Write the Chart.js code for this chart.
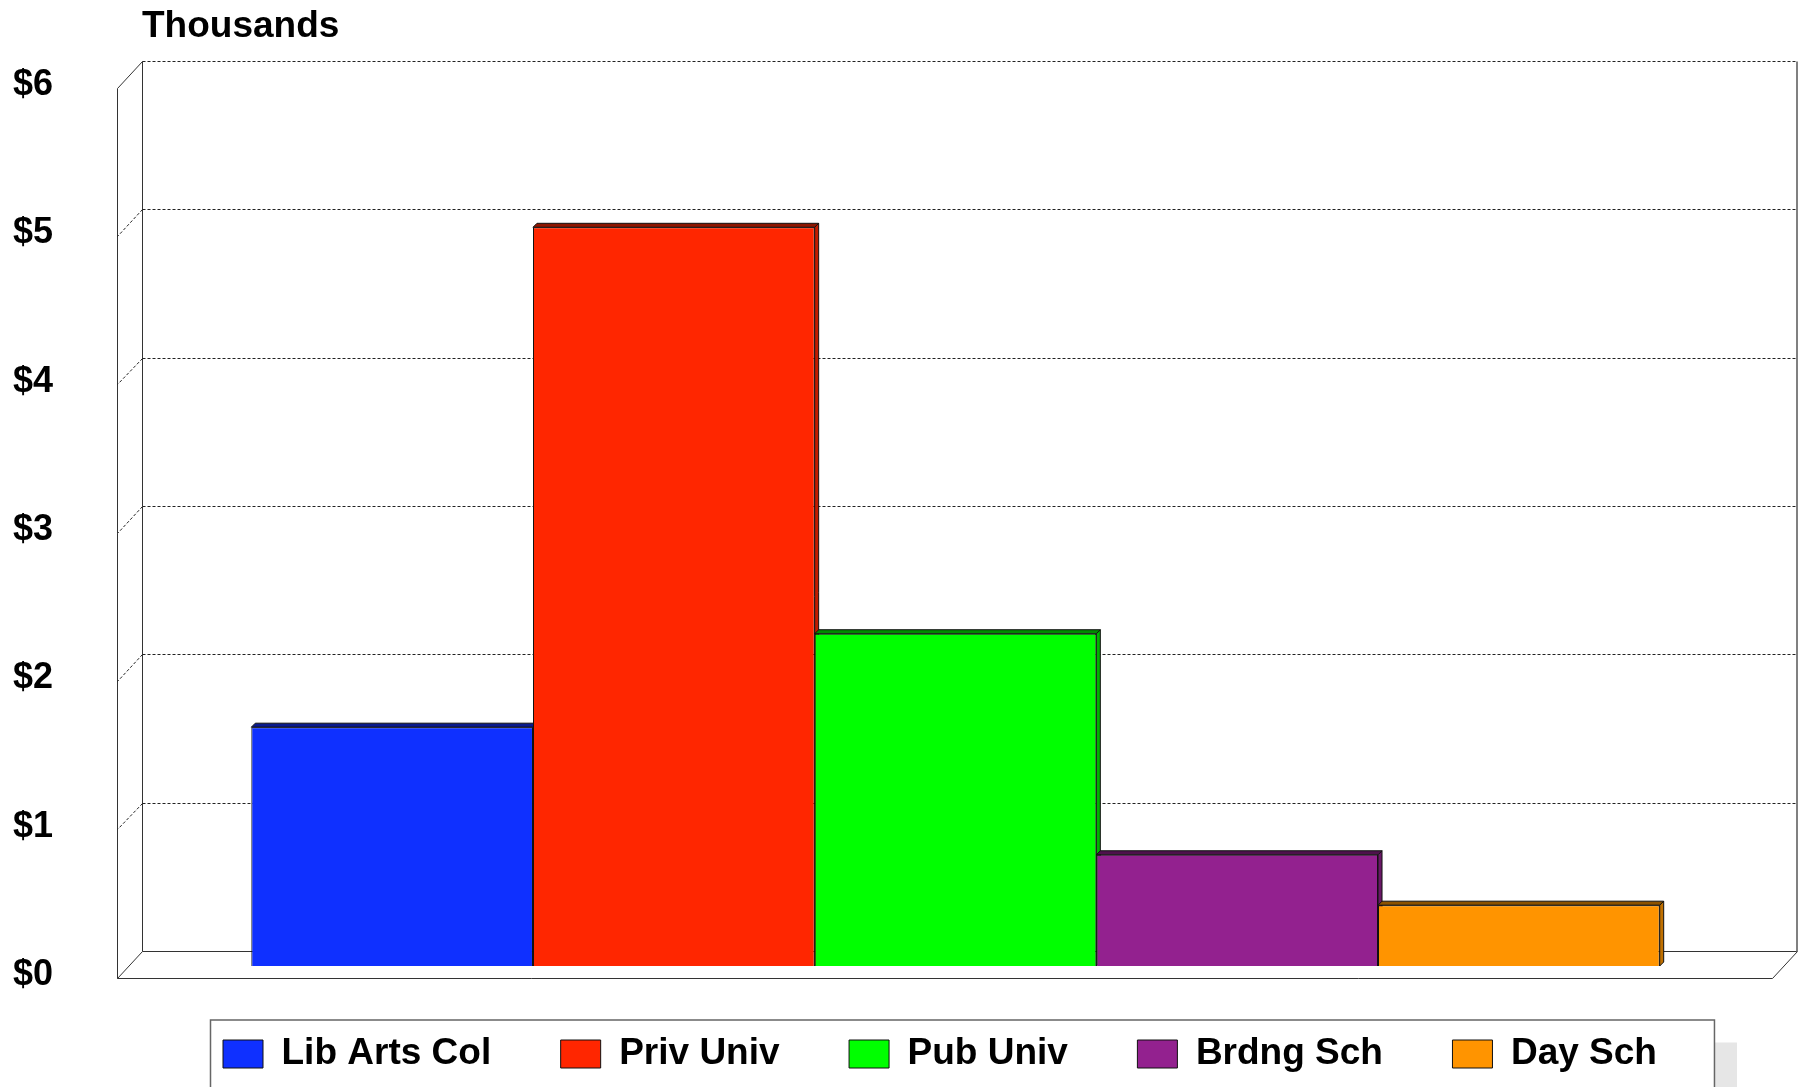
<!DOCTYPE html>
<html>
<head>
<meta charset="utf-8">
<script src="https://cdn.jsdelivr.net/npm/chart.js@4.4.1/dist/chart.umd.min.js"></script>
<style>html,body{margin:0;padding:0;background:#fff;overflow:hidden}</style>
</head>
<body>
<canvas id="c" width="1799" height="1087"></canvas>
<script>
// ---- data ----
const categories = [''];
const seriesNames = ['Lib Arts Col', 'Priv Univ', 'Pub Univ', 'Brdng Sch', 'Day Sch'];
const seriesValues = [1.61, 4.98, 2.24, 0.75, 0.41];
const tickValues = [0, 1, 2, 3, 4, 5, 6];
const titleText = 'Thousands';

// ---- styles ----
const frontColors = ['#0F30FF', '#FF2600', '#00FF00', '#93218F', '#FF9400'];
const topColors   = ['#0A1A8C', '#8C1500', '#008C00', '#4E114C', '#8C5200'];
const sideColors  = ['#0B24C0', '#C01C00', '#00B400', '#6A1867', '#C07000'];
const FONT = '"Liberation Sans", Arial, Helvetica, sans-serif';
const BACK = {dx: 14, dy: -15};
const FRONT = {dx: -11, dy: 11.5};
const DEPTH = 4;
const LEGEND_FIRST_X = 223;

const yMax = tickValues[tickValues.length - 1];

const framePlugin = {
  id: 'frame3d',
  afterLayout(chart) {
    const lg = chart.legend;
    if (!lg || !lg.lineWidths) return;
    const pad = lg.options.labels.padding;
    const x0 = (lg.left + pad + lg.right - lg.lineWidths[0]) / 2;
    const shift = LEGEND_FIRST_X - x0;
    lg.left += shift;
    lg.right += shift;
  },
  beforeDraw(chart) {
    const {ctx} = chart;
    const lg = chart.legend;
    if (!lg || !lg.lineWidths) return;
    const pad = lg.options.labels.padding;
    const rowW = lg.lineWidths[0] - pad;
    const bx = LEGEND_FIRST_X - 13;
    const by = lg.top + pad - 16;
    const bw = rowW + 13 + 57;
    ctx.save();
    ctx.fillStyle = '#e6e6e6';
    ctx.fillRect(bx + 23, by + 23, bw, 200);
    ctx.fillStyle = '#ffffff';
    ctx.fillRect(bx, by, bw, 200);
    ctx.strokeStyle = '#666';
    ctx.lineWidth = 1.5;
    ctx.strokeRect(bx + 0.5, by + 0.5, bw, 200);
    ctx.restore();
  },
  beforeDatasetsDraw(chart) {
    const {ctx, chartArea: a, scales: {y}} = chart;
    const bl = Math.round(a.left + BACK.dx) + 0.5, br = Math.round(a.right + BACK.dx) + 0.5;
    const fl = Math.round(a.left + FRONT.dx) + 0.5, fr = Math.round(a.right + FRONT.dx) + 0.5;
    const yb = v => Math.round(y.getPixelForValue(v) + BACK.dy) + 0.5;
    const yf = v => Math.round(y.getPixelForValue(v) + FRONT.dy) + 0.5;
    ctx.save();
    ctx.lineWidth = 1;
    ctx.strokeStyle = '#333';
    // floor
    ctx.beginPath();
    ctx.moveTo(bl, yb(0)); ctx.lineTo(br, yb(0)); ctx.lineTo(fr, yf(0)); ctx.lineTo(fl, yf(0));
    ctx.closePath();
    ctx.stroke();
    // left wall
    ctx.beginPath();
    ctx.moveTo(bl, yb(0)); ctx.lineTo(bl, yb(yMax)); ctx.lineTo(fl, yf(yMax)); ctx.lineTo(fl, yf(0));
    ctx.stroke();
    // back right edge
    ctx.strokeStyle = '#808080';
    ctx.lineWidth = 2;
    ctx.beginPath();
    ctx.moveTo(br - 0.5, yb(yMax)); ctx.lineTo(br - 0.5, yb(0));
    ctx.stroke();
    // gridlines
    ctx.setLineDash([3, 2]);
    ctx.strokeStyle = '#222';
    ctx.lineWidth = 1;
    tickValues.forEach(v => {
      if (v <= 0) return;
      ctx.beginPath();
      ctx.moveTo(bl, yb(v)); ctx.lineTo(br, yb(v));
      ctx.stroke();
      if (v < yMax) {
        ctx.beginPath();
        ctx.moveTo(bl, yb(v)); ctx.lineTo(fl, yf(v));
        ctx.stroke();
      }
    });
    ctx.setLineDash([]);

    // 3D top and side faces of bars (fronts are drawn by Chart.js afterwards)
    const d = DEPTH;
    ctx.lineWidth = 1;
    ctx.strokeStyle = '#111';
    chart.data.datasets.forEach((ds, i) => {
      const meta = chart.getDatasetMeta(i);
      if (!meta.visible) return;
      meta.data.forEach(el => {
        const p = el.getProps(['x', 'y', 'base', 'width'], true);
        const x0 = p.x - p.width / 2, x1 = p.x + p.width / 2;
        const top = p.y, base = p.base;
        // side face
        ctx.fillStyle = sideColors[i];
        ctx.beginPath();
        ctx.moveTo(x1, top); ctx.lineTo(x1 + d, top - d); ctx.lineTo(x1 + d, base - d); ctx.lineTo(x1, base);
        ctx.closePath();
        ctx.fill(); ctx.stroke();
        // top face
        ctx.fillStyle = topColors[i];
        ctx.beginPath();
        ctx.moveTo(x0, top); ctx.lineTo(x1, top); ctx.lineTo(x1 + d, top - d); ctx.lineTo(x0 + d, top - d);
        ctx.closePath();
        ctx.fill(); ctx.stroke();
      });
    });
    ctx.restore();
  },
  afterDraw(chart) {
    const {ctx} = chart;
    ctx.save();
    ctx.fillStyle = '#000';
    ctx.font = 'bold 37px ' + FONT;
    ctx.textBaseline = 'alphabetic';
    ctx.textAlign = 'left';
    ctx.fillText(titleText, 142, 37);
    ctx.restore();
  }
};

const datasets = seriesNames.map((name, i) => ({
  label: name,
  data: [seriesValues[i]],
  backgroundColor: frontColors[i],
  borderColor: '#111',
  borderWidth: 1,
  barPercentage: 1.0,
  categoryPercentage: 0.851
}));

new Chart(document.getElementById('c'), {
  type: 'bar',
  data: { labels: categories, datasets },
  options: {
    responsive: false,
    animation: false,
    layout: { padding: { top: 76, right: 16, bottom: 4.5, left: 0 } },
    plugins: {
      title: { display: false },
      tooltip: { enabled: false },
      legend: {
        display: true,
        position: 'bottom',
        labels: {
          boxWidth: 40,
          boxHeight: 28,
          padding: 69.5,
          color: '#000',
          font: { family: FONT, size: 37, weight: 'bold' }
        }
      }
    },
    scales: {
      x: { display: false, grid: { display: false } },
      y: {
        min: 0,
        max: yMax,
        afterBuildTicks: s => { s.ticks = tickValues.map(v => ({ value: v })); },
        afterFit: s => { s.width = 128; s.paddingTop = 0; s.paddingBottom = 0; },
        grid: { display: false, drawTicks: false },
        border: { display: false },
        ticks: {
          padding: 75,
          labelOffset: 9,
          color: '#000',
          font: { family: FONT, size: 36, weight: 'bold' },
          callback: v => '$' + v
        }
      }
    }
  },
  plugins: [framePlugin]
});
</script>
</body>
</html>
